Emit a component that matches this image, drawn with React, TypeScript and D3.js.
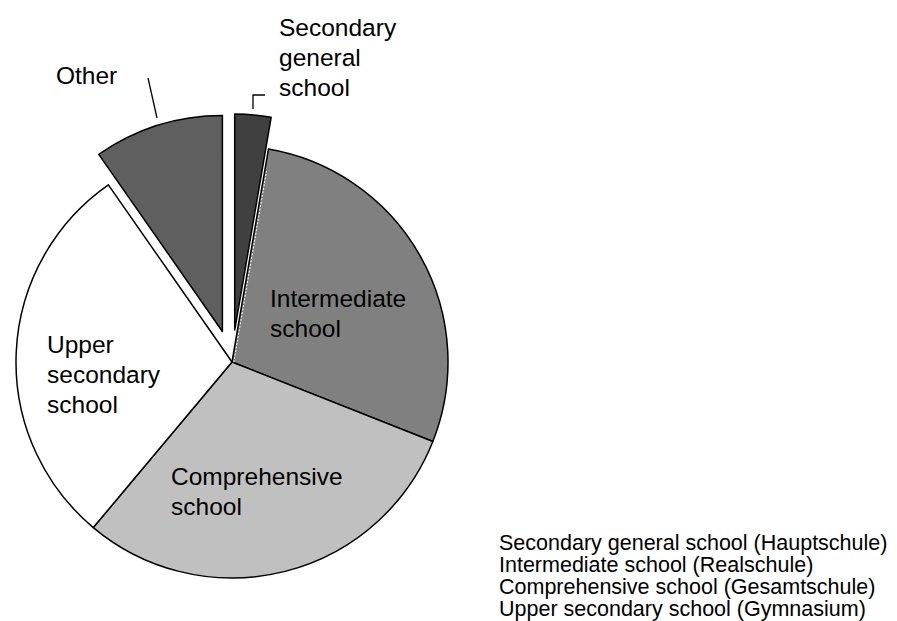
import React from "react";
import * as d3 from "d3";

// Share of pupils by school type (percent)
const categories = [
  "Secondary general school",
  "Intermediate school",
  "Comprehensive school",
  "Upper secondary school",
  "Other",
];
const shares = [2.7, 28.3, 30.1, 29.2, 9.7];
const exploded = [true, false, false, false, true];
const fills = ["#404040", "#808080", "#c0c0c0", "#ffffff", "#5f5f5f"];

// Slice labels, one array of lines per category
const sliceLabels = [
  ["Secondary", "general", "school"],
  ["Intermediate", "school"],
  ["Comprehensive", "school"],
  ["Upper", "secondary", "school"],
  ["Other"],
];

const legendLines = [
  "Secondary general school (Hauptschule)",
  "Intermediate school (Realschule)",
  "Comprehensive school (Gesamtschule)",
  "Upper secondary school (Gymnasium)",
];

const W = 897;
const H = 621;
const cx = 232;
const cy = 362;
const R = 216;
const explode = 32;

// label anchor (left x, first baseline) per slice
const labelPos: [number, number][] = [
  [279, 36],
  [270, 307],
  [171, 485],
  [47, 353],
  [56, 84],
];

export default function App() {
  const pie = d3
    .pie<number>()
    .sort(null)
    .value((d) => d)
    .startAngle(0)
    .endAngle(2 * Math.PI);
  const arcs = pie(shares);
  const arc = d3.arc<d3.PieArcDatum<number>>().innerRadius(0).outerRadius(R);

  const offsets = arcs.map((a, i) => {
    if (!exploded[i]) return [0, 0];
    const mid = (a.startAngle + a.endAngle) / 2;
    return [Math.sin(mid) * explode, -Math.cos(mid) * explode];
  });

  // boundary between the first slice and the second one
  const edgeAngle = arcs[1].startAngle;
  const edgeEnd = [Math.sin(edgeAngle) * R, -Math.cos(edgeAngle) * R];

  const font = "'Liberation Sans', Arial, sans-serif";

  return (
    <svg
      width={W}
      height={H}
      style={{ position: "absolute", left: 0, top: 0, background: "#fff" }}
    >
      <g transform={`translate(${cx},${cy})`}>
        {arcs.map((a, i) => (
          <path
            key={categories[i]}
            d={arc(a) || ""}
            transform={`translate(${offsets[i][0]},${offsets[i][1]})`}
            fill={fills[i]}
            stroke="#000"
            strokeWidth={1.5}
            strokeLinejoin="round"
          />
        ))}
        <line
          x1={0}
          y1={0}
          x2={edgeEnd[0] * 0.9}
          y2={edgeEnd[1] * 0.9}
          transform={`translate(${Math.cos(edgeAngle) * 1.8},${Math.sin(edgeAngle) * 1.8})`}
          stroke="#fff"
          strokeWidth={1}
          strokeDasharray="2 1.5"
        />
      </g>

      {/* leader lines */}
      <line x1={148} y1={78} x2={157} y2={118} stroke="#000" strokeWidth={1.3} />
      <polyline
        points="253,109 253,95 265,95"
        fill="none"
        stroke="#000"
        strokeWidth={1.3}
      />

      {sliceLabels.map((lines, i) => (
        <text
          key={categories[i]}
          x={labelPos[i][0]}
          y={labelPos[i][1]}
          fontFamily={font}
          fontSize={24.5}
          fill="#000"
        >
          {lines.map((l, j) => (
            <tspan key={j} x={labelPos[i][0]} dy={j === 0 ? 0 : 30}>
              {l}
            </tspan>
          ))}
        </text>
      ))}

      <text x={499} y={550} fontFamily={font} fontSize={21.5} fill="#000">
        {legendLines.map((l, j) => (
          <tspan key={j} x={499} dy={j === 0 ? 0 : 22}>
            {l}
          </tspan>
        ))}
      </text>
    </svg>
  );
}
